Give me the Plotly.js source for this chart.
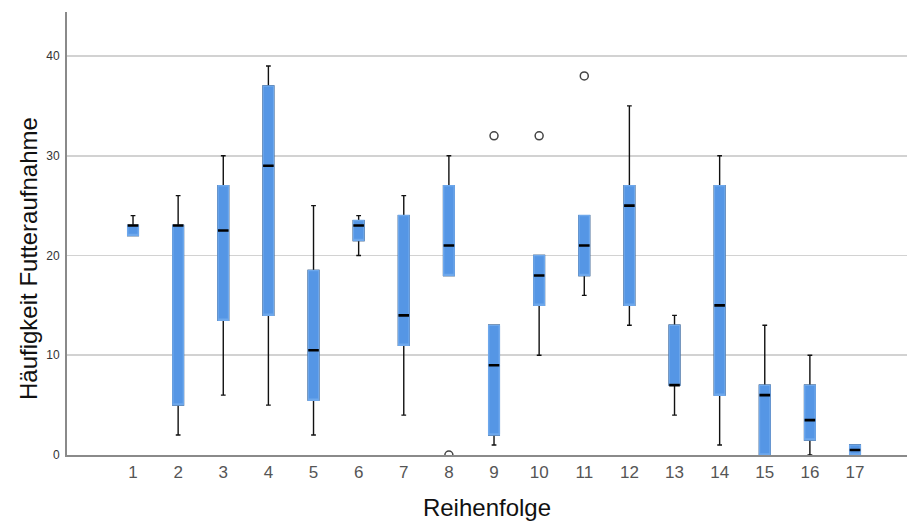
<!DOCTYPE html>
<html>
<head>
<meta charset="utf-8">
<script src="https://cdn.plot.ly/plotly-3.0.1.min.js"></script>
<style>
  html, body { margin: 0; padding: 0; background: #fff; }
  #chart { width: 907px; height: 522px; }
</style>
</head>
<body>
<div id="chart"></div>
<script>
// Reihenfolge 1..17 — five-number summaries of Futteraufnahme per position
const categories = ['1','2','3','4','5','6','7','8','9','10','11','12','13','14','15','16','17'];
const lowerWhisker = [22, 2, 6, 5, 2, 20, 4, 18, 1, 10, 16, 13, 4, 1, 0, 0, 0];
const q1Values     = [22, 5, 13.5, 14, 5.5, 21.5, 11, 18, 2, 15, 18, 15, 7, 6, 0, 1.5, 0];
const medianValues = [23, 23, 22.5, 29, 10.5, 23, 14, 21, 9, 18, 21, 25, 7, 15, 6, 3.5, 0.5];
const q3Values     = [23, 23, 27, 37, 18.5, 23.5, 24, 27, 13, 20, 24, 27, 13, 27, 7, 7, 1];
const upperWhisker = [24, 26, 30, 39, 25, 24, 26, 30, 13, 20, 24, 35, 14, 30, 13, 10, 1];

// single observations beyond the whiskers
const outlierCats   = ['8', '9', '10', '11'];
const outlierValues = [0, 32, 32, 38];

const boxFill = '#5596e5';
const boxWidth = 0.235;
const font = 'Liberation Sans, Arial, sans-serif';

// whiskers with caps (black); their box outline is hidden under the filled box
const whiskers = {
  type: 'box', x: categories,
  q1: q1Values, median: medianValues, q3: q3Values,
  lowerfence: lowerWhisker, upperfence: upperWhisker,
  width: boxWidth, whiskerwidth: 0.45,
  fillcolor: 'rgba(0,0,0,0)',
  line: { color: '#111', width: 1.4 },
  boxpoints: false, hoverinfo: 'skip', showlegend: false
};

// interquartile boxes, filled blue
const boxes = {
  type: 'box', x: categories,
  q1: q1Values, median: q1Values, q3: q3Values,
  lowerfence: q1Values, upperfence: q3Values,
  width: boxWidth, whiskerwidth: 0,
  fillcolor: boxFill,
  line: { color: '#6ea8ec', width: 1.5 },
  boxpoints: false, showlegend: false
};

// medians as thick black bars across each box
const medians = {
  type: 'box', x: categories,
  q1: medianValues, median: medianValues, q3: medianValues,
  lowerfence: medianValues, upperfence: medianValues,
  width: boxWidth, whiskerwidth: 0,
  fillcolor: 'rgba(0,0,0,0)',
  line: { color: '#000', width: 2.6 },
  boxpoints: false, hoverinfo: 'skip', showlegend: false
};

const outliers = {
  type: 'scatter', mode: 'markers', x: outlierCats, y: outlierValues,
  marker: { symbol: 'circle-open', size: 8, color: '#444', line: { width: 1.5, color: '#444' } },
  showlegend: false
};

const layout = {
  width: 907, height: 522,
  margin: { l: 67, r: 0, t: 12, b: 67 },
  paper_bgcolor: '#fff', plot_bgcolor: '#fff',
  boxmode: 'overlay',
  showlegend: false,
  font: { family: font },
  xaxis: {
    type: 'category',
    categoryorder: 'array', categoryarray: categories,
    range: [-1.463, 17.152],
    showgrid: false, zeroline: false,
    showline: true, linecolor: '#8a8a8a', linewidth: 2,
    ticks: 'outside', ticklen: 1, tickcolor: 'rgba(0,0,0,0)',
    tickfont: { size: 17, color: '#555', family: font },
    title: { text: 'Reihenfolge', font: { size: 24, color: '#111', family: font }, standoff: 18 }
  },
  yaxis: {
    range: [0, 44.41],
    tickvals: [0, 10, 20, 30, 40],
    showgrid: true, gridcolor: '#d2d2d2', gridwidth: 1.6,
    zeroline: false,
    showline: true, linecolor: '#8a8a8a', linewidth: 2,
    ticks: 'outside', ticklen: 3, tickcolor: 'rgba(0,0,0,0)',
    tickfont: { size: 12, color: '#333', family: font }
  },
  // y-axis title, set slightly below the plot's vertical centre
  annotations: [{
    text: 'Häufigkeit Futteraufnahme',
    xref: 'paper', yref: 'paper',
    x: -39 / 840, y: (455 - 259) / 443,
    xanchor: 'center', yanchor: 'middle',
    textangle: -90, showarrow: false,
    font: { size: 24, color: '#111', family: font }
  }]
};

Plotly.newPlot('chart', [whiskers, boxes, medians, outliers], layout, { displayModeBar: false, staticPlot: true });
</script>
</body>
</html>
